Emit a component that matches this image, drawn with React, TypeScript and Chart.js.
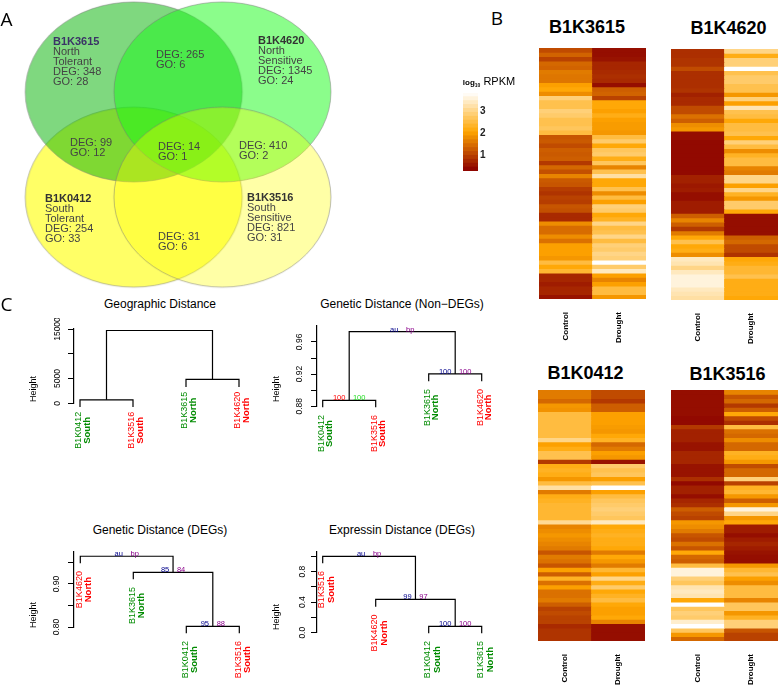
import React, { useEffect, useRef } from "react";
import { Chart, registerables } from "chart.js";

Chart.register(...registerables);

const FONT = "'Liberation Sans', Arial, sans-serif";

/* ---------- Panel A: Venn ---------- */
const vennSets = ["B1K0412", "B1K3615", "B1K4620", "B1K3516"];
const vennCol = [1, 1, 2, 2];
const vennRow = [2, 1, 1, 2];
const vennOrigin = ["South", "North", "North", "South"];
const vennTrait = ["Tolerant", "Tolerant", "Sensitive", "Sensitive"];
const vennDeg = [254, 348, 1345, 821];
const vennGo = [33, 28, 24, 31];
const vennSharedDeg = [265, 99, 14, 410, 31];
const vennSharedGo = [6, 12, 1, 2, 6];

/* ---------- Panel B: heat maps (log10 RPKM) ---------- */
const heatColumns = ["Control", "Drought"];
const control3615 = [1.1,1.35,1.0,1.4,1.35,1.6,1.55,1.55,2.0,2.1,1.8,2.9,2.6,2.6,2.9,2.8,2.6,2.6,2.7,2.5,1.2,1.25,1.1,1.3,1.25,1.3,0.9,1.4,1.15,1.7,1.25,1.2,0.95,0.85,1.0,0.95,1.2,1.15,0.75,0.75,1.8,1.45,1.45,1.8,1.5,2.0,2.0,2.0,1.9,2.5,2.1,2.4,0.7,0.7,0.6,0.7,0.7,0.5];
const drought3615 = [0.45,0.45,0.5,0.7,0.7,0.75,0.8,0.75,0.45,1.3,1.35,1.0,2.1,2.1,2.0,2.2,2.0,1.95,1.95,1.9,2.5,2.8,2.1,2.7,2.8,2.2,2.7,1.7,2.6,3.2,2.1,2.1,2.6,1.8,2.5,2.0,2.9,2.8,2.1,2.3,3.0,2.5,2.6,3.0,2.5,2.9,2.8,3.0,2.9,3.85,2.8,3.4,2.0,1.7,2.0,2.5,2.5,1.9];
const control4620 = [0.8,0.8,0.85,0.85,1.1,0.8,0.8,0.8,0.8,0.85,0.65,0.75,0.75,1.1,1.1,1.5,1.3,1.8,1.9,0.45,0.45,0.4,0.4,0.4,0.4,0.4,0.4,0.4,0.4,0.65,0.65,0.55,0.6,0.45,0.45,0.6,0.6,0.6,1.3,1.7,1.3,0.9,1.6,2.1,2.6,2.1,2.2,1.8,3.4,3.3,3.0,3.4,3.6,3.6,3.6,3.4,3.3,3.2];
const drought4620 = [3.0,2.2,2.9,2.9,3.85,2.6,2.8,2.8,2.6,2.6,1.9,2.9,2.0,3.3,2.6,2.5,2.1,2.5,2.5,2.6,2.1,2.9,2.5,1.8,2.3,2.5,2.5,1.7,1.6,3.0,3.0,2.0,3.0,2.3,1.9,2.8,2.8,2.1,0.45,0.45,0.45,0.45,0.45,1.3,1.4,1.1,1.1,0.85,2.1,2.2,2.4,2.4,2.6,2.2,2.2,2.2,2.2,2.1];
const control0412 = [1.6,1.6,1.4,1.9,1.85,2.5,2.5,2.5,2.5,2.5,2.5,3.0,2.0,2.2,2.6,2.6,0.9,2.2,2.3,2.2,1.9,2.5,3.2,1.6,2.2,2.3,2.4,2.4,2.4,2.4,3.1,1.7,1.8,1.9,1.8,1.7,1.6,1.2,1.6,1.5,1.2,2.0,1.3,2.3,1.5,2.0,1.5,1.5,1.6,1.3,1.0,1.1,1.0,1.0,0.75,0.85,0.85,0.85];
const drought0412 = [1.1,1.1,0.9,1.3,1.3,2.0,2.0,2.0,1.95,1.9,2.1,2.3,1.4,1.6,2.0,1.9,0.5,2.8,2.6,2.7,2.0,2.6,3.85,2.0,2.5,2.7,2.8,2.9,2.8,2.7,3.4,2.1,2.2,2.3,2.2,2.2,2.1,1.6,2.1,1.9,1.6,2.4,2.0,3.0,2.2,2.8,2.1,2.3,2.5,2.1,2.0,2.0,2.1,1.7,0.45,0.45,0.45,0.45];
const control3516 = [0.45,0.45,0.45,0.45,0.45,0.45,0.4,0.4,0.9,0.65,0.65,0.65,0.5,0.5,0.7,0.7,0.7,0.5,0.5,0.5,0.8,0.4,0.65,0.65,0.45,0.7,0.8,1.3,1.1,1.0,1.9,1.8,1.6,1.2,1.1,1.5,1.2,2.1,1.4,1.3,2.5,3.6,3.6,2.9,2.7,3.3,3.4,3.3,2.1,3.85,2.7,2.9,2.8,3.5,3.85,2.7,1.9,1.4];
const drought3516 = [1.7,1.2,1.4,0.9,1.3,2.1,1.1,0.8,2.5,1.5,1.4,1.8,1.4,1.4,2.3,2.2,1.9,1.1,1.4,1.4,2.9,1.0,2.3,2.4,1.9,1.3,1.9,3.6,3.0,1.9,2.1,0.6,0.6,0.45,0.6,0.7,0.6,0.5,0.45,0.45,1.9,2.4,2.6,2.0,1.8,2.5,2.5,2.5,1.7,2.7,2.7,1.9,2.3,2.9,2.9,1.2,1.0,1.0];
const legendLevels = [0.27,0.45,0.63,0.81,0.99,1.17,1.35,1.53,1.71,1.89,2.07,2.25,2.43,2.61,2.79,2.97,3.15,3.33,3.51,3.69,3.86];
const legendTicks = [1, 2, 3];

/* ---------- Panel C: dendrograms ---------- */
const geoLeaves = ["B1K0412", "B1K3516", "B1K3615", "B1K4620"];
const geoRegions = ["South", "South", "North", "North"];
const geoMerges = [[-1, -2], [-3, -4], [1, 2]];
const geoHeights = [700, 4850, 14700];
const geoHangs = [-750, -750, 3290, 3290];
const geoTicks = [0, 5000, 10000, 15000];
const geoTickLabels = ["0", "5000", "", "15000"];

const nonDegLeaves = ["B1K0412", "B1K3516", "B1K3615", "B1K4620"];
const nonDegRegions = ["South", "South", "North", "North"];
const nonDegMerges = [[-1, -2], [-3, -4], [1, 2]];
const nonDegHeights = [0.8873, 0.9202, 0.9727];
const nonDegHangs = [0.8788, 0.8788, 0.9112, 0.9112];
const nonDegTicks = [0.88, 0.9, 0.92, 0.94, 0.96];
const nonDegTickLabels = ["0.88", "", "0.92", "", "0.96"];
const nonDegAu = ["100", "100", "au"];
const nonDegBp = ["100", "100", "bp"];

const degLeaves = ["B1K4620", "B1K3615", "B1K0412", "B1K3516"];
const degRegions = ["North", "North", "South", "South"];
const degMerges = [[-3, -4], [-2, 1], [-1, 2]];
const degHeights = [0.8016, 0.927, 0.9644];
const degHangs = [0.948, 0.911, 0.7853, 0.7853];
const degTicks = [0.8, 0.85, 0.9, 0.95];
const degTickLabels = ["0.80", "", "0.90", ""];
const degAu = ["95", "85", "au"];
const degBp = ["88", "84", "bp"];

const exprLeaves = ["B1K3516", "B1K4620", "B1K0412", "B1K3615"];
const exprRegions = ["South", "North", "South", "North"];
const exprMerges = [[-3, -4], [-2, 1], [-1, 2]];
const exprHeights = [0.084, 0.437, 1.0];
const exprHangs = [0.908, 0.34, -0.008, -0.008];
const exprTicks = [0, 0.2, 0.4, 0.6, 0.8, 1];
const exprTickLabels = ["0.0", "", "0.4", "", "0.8", ""];
const exprAu = ["100", "99", "au"];
const exprBp = ["100", "97", "bp"];

const SENSITIVE = ["B1K3516", "B1K4620"];

/* ---------- helpers ---------- */
function heatColor(v: number) {
  const lo = [139, 0, 0], mid = [255, 165, 0], hi = [255, 255, 255];
  const vLo = 0.3, vMid = 2.05, vHi = 3.85;
  const c = Math.max(vLo, Math.min(vHi, v));
  const [a, b, t] = c < vMid ? [lo, mid, (c - vLo) / (vMid - vLo)] : [mid, hi, (c - vMid) / (vHi - vMid)];
  const mix = a.map((x, i) => Math.round(x + (b[i] - x) * t));
  return `rgb(${mix[0]},${mix[1]},${mix[2]})`;
}

function putText(ctx: any, s: string, x: number, y: number, font: string, color: string, rot = 0, align = "center") {
  ctx.save();
  ctx.translate(x, y);
  if (rot) ctx.rotate(rot);
  ctx.font = font;
  ctx.fillStyle = color;
  ctx.textAlign = align;
  ctx.textBaseline = "middle";
  ctx.fillText(s, 0, 0);
  ctx.restore();
}

function useChart(make: (c: HTMLCanvasElement) => any) {
  const ref = useRef<HTMLCanvasElement | null>(null);
  useEffect(() => {
    const chart = make(ref.current as HTMLCanvasElement);
    return () => chart.destroy();
  }, []);
  return ref;
}

const quiet = { legend: { display: false }, tooltip: { enabled: false }, title: { display: false } };

function Label(p: { x: number; y: number; size: number; bold?: boolean; family?: string; children: any }) {
  return (
    <div
      style={{
        position: "absolute",
        left: p.x,
        top: p.y,
        transform: "translate(-50%,-50%)",
        fontFamily: p.family || FONT,
        fontSize: p.size,
        fontWeight: p.bold ? 700 : 400,
        color: "#000",
        whiteSpace: "nowrap",
        lineHeight: 1,
      }}
    >
      {p.children}
    </div>
  );
}

/* ---------- Venn ---------- */
function Venn() {
  const W = 400, H = 292;
  const rx = 108.5, ry = 90;
  const ellipseFill = ["rgba(255,255,0,0.6)", "rgba(0,177,0,0.5)", "rgba(24,251,24,0.5)", "rgba(255,255,0,0.35)"];
  const setText: [number, number][] = [[45, 198.5], [53, 41.5], [258, 40.5], [247, 197.5]];
  const sharedText: [number, number][] = [[156, 54.5], [70, 142.5], [158, 147], [239, 146], [158, 236.5]];
  const ref = useChart((canvas) => {
    const styles = vennSets.map((_, i) => {
      const c = document.createElement("canvas");
      c.width = Math.ceil(rx * 2 + 4);
      c.height = Math.ceil(ry * 2 + 4);
      const g = c.getContext("2d") as CanvasRenderingContext2D;
      g.beginPath();
      g.ellipse(c.width / 2, c.height / 2, rx, ry, 0, 0, Math.PI * 2);
      g.fillStyle = ellipseFill[i];
      g.fill();
      g.strokeStyle = "rgba(120,120,120,0.5)";
      g.lineWidth = 1;
      g.stroke();
      return c;
    });
    const xUnit = 91, yUnit = 109;
    const xMin = 1 - 132 / xUnit, yMin = 1 - 90 / yUnit;
    const textPlugin = {
      id: "vennText",
      afterDatasetsDraw(chart: any) {
        const ctx = chart.ctx;
        const plain = `11px ${FONT}`;
        const bold = `bold 11px ${FONT}`;
        vennSets.forEach((name, i) => {
          const [x, y] = setText[i];
          const lines = [vennOrigin[i], vennTrait[i], `DEG: ${vennDeg[i]}`, `GO: ${vennGo[i]}`];
          putText(ctx, name, x, y, bold, i === 1 ? "#3a3366" : "#333", 0, "left");
          lines.forEach((l, k) => putText(ctx, l, x, y + 10.2 * (k + 1), plain, "#444", 0, "left"));
        });
        vennSharedDeg.forEach((d, i) => {
          const [x, y] = sharedText[i];
          putText(ctx, `DEG: ${d}`, x, y, plain, "#444", 0, "left");
          putText(ctx, `GO: ${vennSharedGo[i]}`, x, y + 10, plain, "#444", 0, "left");
        });
      },
    };
    return new Chart(canvas, {
      type: "scatter",
      data: {
        datasets: [
          {
            data: vennSets.map((_, i) => ({ x: vennCol[i], y: vennRow[i] })),
            pointStyle: styles as any,
            pointRadius: 3,
            clip: false as any,
          },
        ],
      },
      options: {
        responsive: false,
        animation: false,
        plugins: quiet as any,
        scales: {
          x: { display: false, min: xMin, max: xMin + W / xUnit },
          y: { display: false, reverse: true, min: yMin, max: yMin + H / yUnit },
        },
      },
      plugins: [textPlugin],
    } as any);
  });
  return <canvas ref={ref} width={W} height={H} style={{ position: "absolute", left: 0, top: 0 }} />;
}

/* ---------- Heat map ---------- */
function Heat(p: { control: number[]; drought: number[]; left: number; top: number; width: number; height: number; canvasH: number }) {
  const ref = useChart((canvas) => {
    const datasets = p.control.map((v, i) => ({
      data: [1, 1],
      backgroundColor: [heatColor(v), heatColor(p.drought[i])],
      borderWidth: 0,
      inflateAmount: 0.4,
      barPercentage: 1,
      categoryPercentage: 1,
    }));
    return new Chart(canvas, {
      type: "bar",
      data: { labels: heatColumns, datasets },
      options: {
        responsive: false,
        animation: false,
        plugins: quiet as any,
        layout: { padding: 0, autoPadding: false },
        scales: {
          x: {
            stacked: true,
            grid: { display: false, drawTicks: false },
            border: { display: false },
            ticks: { color: "#000", font: { family: FONT, size: 8, weight: "bold" }, minRotation: 90, maxRotation: 90, padding: 13, autoSkip: false },
            afterFit: (s: any) => { s.height = p.canvasH - p.height; },
          },
          y: { stacked: true, display: false, reverse: true, min: 0, max: p.control.length },
        },
      },
    } as any);
  });
  return <canvas ref={ref} width={p.width} height={p.canvasH} style={{ position: "absolute", left: p.left, top: p.top }} />;
}

/* ---------- Colour key ---------- */
function Key() {
  const ref = useChart((canvas) => {
    const datasets = legendLevels.slice(0, -1).map((v, i) => ({
      data: [[v, legendLevels[i + 1]]],
      backgroundColor: heatColor((v + legendLevels[i + 1]) / 2),
      borderWidth: 0,
      inflateAmount: 0.4,
      barPercentage: 1,
      categoryPercentage: 1,
      grouped: false,
    }));
    return new Chart(canvas, {
      type: "bar",
      data: { labels: [""], datasets },
      options: {
        responsive: false,
        animation: false,
        plugins: quiet as any,
        layout: { padding: { left: 3, top: 5, bottom: 5 }, autoPadding: false },
        scales: {
          x: { display: false },
          y: {
            position: "right",
            min: legendLevels[0],
            max: legendLevels[legendLevels.length - 1],
            z: 1,
            border: { display: false, dash: [3, 9, 3] },
            grid: { color: "rgba(255,255,255,0.85)", drawTicks: false },
            afterBuildTicks: (s: any) => { s.ticks = legendTicks.map((value) => ({ value })); },
            afterFit: (s: any) => { s.width = 12; },
            ticks: { color: "#222", font: { family: FONT, size: 10, weight: "bold" }, padding: 2, autoSkip: false },
          },
        },
      },
    } as any);
  });
  return <canvas ref={ref} width={30} height={94} style={{ position: "absolute", left: 460, top: 85 }} />;
}

/* ---------- Dendrogram ---------- */
type DendroProps = {
  leaves: string[]; regions: string[]; merges: number[][]; heights: number[]; hangs: number[];
  ticks: number[]; tickLabels: string[]; au?: string[]; bp?: string[]; auColors?: string[]; bpColors?: string[];
  yMin: number; yMax: number; left: number; width: number; top: number; height: number;
  axisX: number; leaf1: number; yTop: number; yBottom: number; tickPad: number; gap: number; lineGap: number;
  heightY: number;
};

function Dendro(p: DendroProps) {
  const ref = useChart((canvas) => {
    const pos: number[] = [];
    const paths = p.merges.map(([a, b], i) => {
      const xa = a < 0 ? -a : pos[a - 1], xb = b < 0 ? -b : pos[b - 1];
      const ya = a < 0 ? p.hangs[-a - 1] : p.heights[a - 1], yb = b < 0 ? p.hangs[-b - 1] : p.heights[b - 1];
      pos[i] = (xa + xb) / 2;
      return [{ x: xa, y: ya }, { x: xa, y: p.heights[i] }, { x: xb, y: p.heights[i] }, { x: xb, y: yb }];
    });
    const spacing = 53;
    const xMin = 1 - (p.leaf1 - p.axisX) / spacing;
    const xMax = xMin + (p.left + p.width - p.axisX) / spacing;
    const labelPlugin = {
      id: "dendroLabels",
      afterDatasetsDraw(chart: any) {
        const { ctx, scales } = chart;
        const up = -Math.PI / 2;
        const f = `9px ${FONT}`;
        const fr = `bold 9.5px ${FONT}`;
        p.leaves.forEach((name, i) => {
          const px = scales.x.getPixelForValue(i + 1);
          const py = scales.y.getPixelForValue(p.hangs[i]) + p.gap + 18.3;
          const color = SENSITIVE.includes(name) ? "#ff0000" : "#008b00";
          putText(ctx, name, px - 1, py, f, color, up);
          putText(ctx, p.regions[i], px - 1 + p.lineGap, py, fr, color, up);
        });
        p.merges.forEach((_, i) => {
          if (!p.au || !p.bp) return;
          const mx = scales.x.getPixelForValue(pos[i]);
          const my = scales.y.getPixelForValue(p.heights[i]) - 2;
          const small = `7.5px ${FONT}`;
          putText(ctx, p.au[i], mx - (i < 2 && p.au[i] === "100" ? 10 : 8), my, small, p.auColors ? p.auColors[i] : "#00008b");
          putText(ctx, p.bp[i], mx + (i < 2 && p.bp[i] === "100" ? 10 : 8), my, small, p.bpColors ? p.bpColors[i] : "#8b008b");
        });
        putText(ctx, "Height", p.axisX - 40 - p.left, p.heightY - p.top, `9px ${FONT}`, "#000", up);
      },
    };
    return new Chart(canvas, {
      type: "scatter",
      data: {
        datasets: paths.map((data) => ({
          data,
          showLine: true,
          pointRadius: 0,
          borderColor: "#000",
          borderWidth: 1.2,
          tension: 0,
          clip: false as any,
        })),
      },
      options: {
        responsive: false,
        animation: false,
        plugins: quiet as any,
        layout: { autoPadding: false, padding: { top: p.yTop - p.top, bottom: p.top + p.height - p.yBottom, left: 0, right: 0 } },
        scales: {
          x: { display: false, min: xMin, max: xMax },
          y: {
            min: p.yMin,
            max: p.yMax,
            afterBuildTicks: (s: any) => { s.ticks = p.ticks.map((value) => ({ value })); },
            afterFit: (s: any) => { s.width = p.axisX - p.left; },
            grid: { drawOnChartArea: false, drawTicks: true, tickLength: 6, color: "#000", lineWidth: 1 },
            border: { display: true, color: "#000", width: 1.2 },
            ticks: {
              color: "#000",
              font: { family: FONT, size: 8.5 },
              minRotation: 90,
              maxRotation: 90,
              crossAlign: "center",
              padding: p.tickPad,
              autoSkip: false,
              callback: (_: any, i: number) => p.tickLabels[i],
            },
          },
        },
      },
      plugins: [labelPlugin],
    } as any);
  });
  return <canvas ref={ref} width={p.width} height={p.height} style={{ position: "absolute", left: p.left, top: p.top }} />;
}

export default function App() {
  return (
    <div style={{ position: "absolute", left: 0, top: 0, width: 778, height: 685, background: "#fff", overflow: "hidden" }}>
      <Venn />
      <Label x={6.5} y={19} size={19} family="'Open Sans', sans-serif">A</Label>
      <Label x={497} y={18} size={19} family="'Open Sans', sans-serif">B</Label>
      <Label x={6.5} y={304} size={19} family="'Open Sans', sans-serif">C</Label>

      <Label x={587} y={27} size={18} bold>B1K3615</Label>
      <Label x={728.5} y={28} size={18} bold>B1K4620</Label>
      <Label x={585.5} y={373} size={18} bold>B1K0412</Label>
      <Label x={727.5} y={374} size={18} bold>B1K3516</Label>

      <Heat control={control3615} drought={drought3615} left={539} top={48} width={107} height={251} canvasH={297} />
      <Heat control={control4620} drought={drought4620} left={671} top={49} width={107} height={251} canvasH={297} />
      <Heat control={control0412} drought={drought0412} left={538} top={390} width={107} height={251} canvasH={295} />
      <Heat control={control3516} drought={drought3516} left={671} top={390} width={107} height={251} canvasH={295} />

      <Key />
      <Label x={489} y={82} size={11}>
        <span style={{ fontSize: 8, fontWeight: 700 }}>log<sub style={{ fontSize: 5 }}>10</sub></span> RPKM
      </Label>

      <Label x={160} y={304} size={12}>Geographic Distance</Label>
      <Label x={402} y={304} size={12}>Genetic Distance (Non−DEGs)</Label>
      <Label x={160} y={530} size={12}>Genetic Distance (DEGs)</Label>
      <Label x={402} y={530} size={12}>Expressin Distance (DEGs)</Label>

      <Dendro leaves={geoLeaves} regions={geoRegions} merges={geoMerges} heights={geoHeights} hangs={geoHangs}
        ticks={geoTicks} tickLabels={geoTickLabels} yMin={0} yMax={15000}
        left={0} width={260} top={318} height={145} axisX={74} leaf1={80} yTop={329} yBottom={403.3}
        tickPad={-1} gap={5} lineGap={8} heightY={389} />
      <Dendro leaves={nonDegLeaves} regions={nonDegRegions} merges={nonDegMerges} heights={nonDegHeights} hangs={nonDegHangs}
        ticks={nonDegTicks} tickLabels={nonDegTickLabels} au={nonDegAu} bp={nonDegBp}
        auColors={["#ff0000", "#00008b", "#00008b"]} bpColors={["#22dd22", "#8b008b", "#8b008b"]}
        yMin={0.88} yMax={0.98} left={260} width={258} top={318} height={145} axisX={317} leaf1={322.7} yTop={325} yBottom={406.3}
        tickPad={2.7} gap={8} lineGap={8} heightY={389} />
      <Dendro leaves={degLeaves} regions={degRegions} merges={degMerges} heights={degHeights} hangs={degHangs}
        ticks={degTicks} tickLabels={degTickLabels} au={degAu} bp={degBp}
        yMin={0.8} yMax={0.975} left={0} width={260} top={540} height={145} axisX={74} leaf1={80.3} yTop={551.7} yBottom={627}
        tickPad={2.7} gap={8} lineGap={9.5} heightY={615} />
      <Dendro leaves={exprLeaves} regions={exprRegions} merges={exprMerges} heights={exprHeights} hangs={exprHangs}
        ticks={exprTicks} tickLabels={exprTickLabels} au={exprAu} bp={exprBp}
        yMin={0} yMax={1.06} left={260} width={258} top={540} height={145} axisX={317} leaf1={322.7} yTop={551.7} yBottom={632.7}
        tickPad={2.7} gap={8} lineGap={9.5} heightY={617} />
    </div>
  );
}
